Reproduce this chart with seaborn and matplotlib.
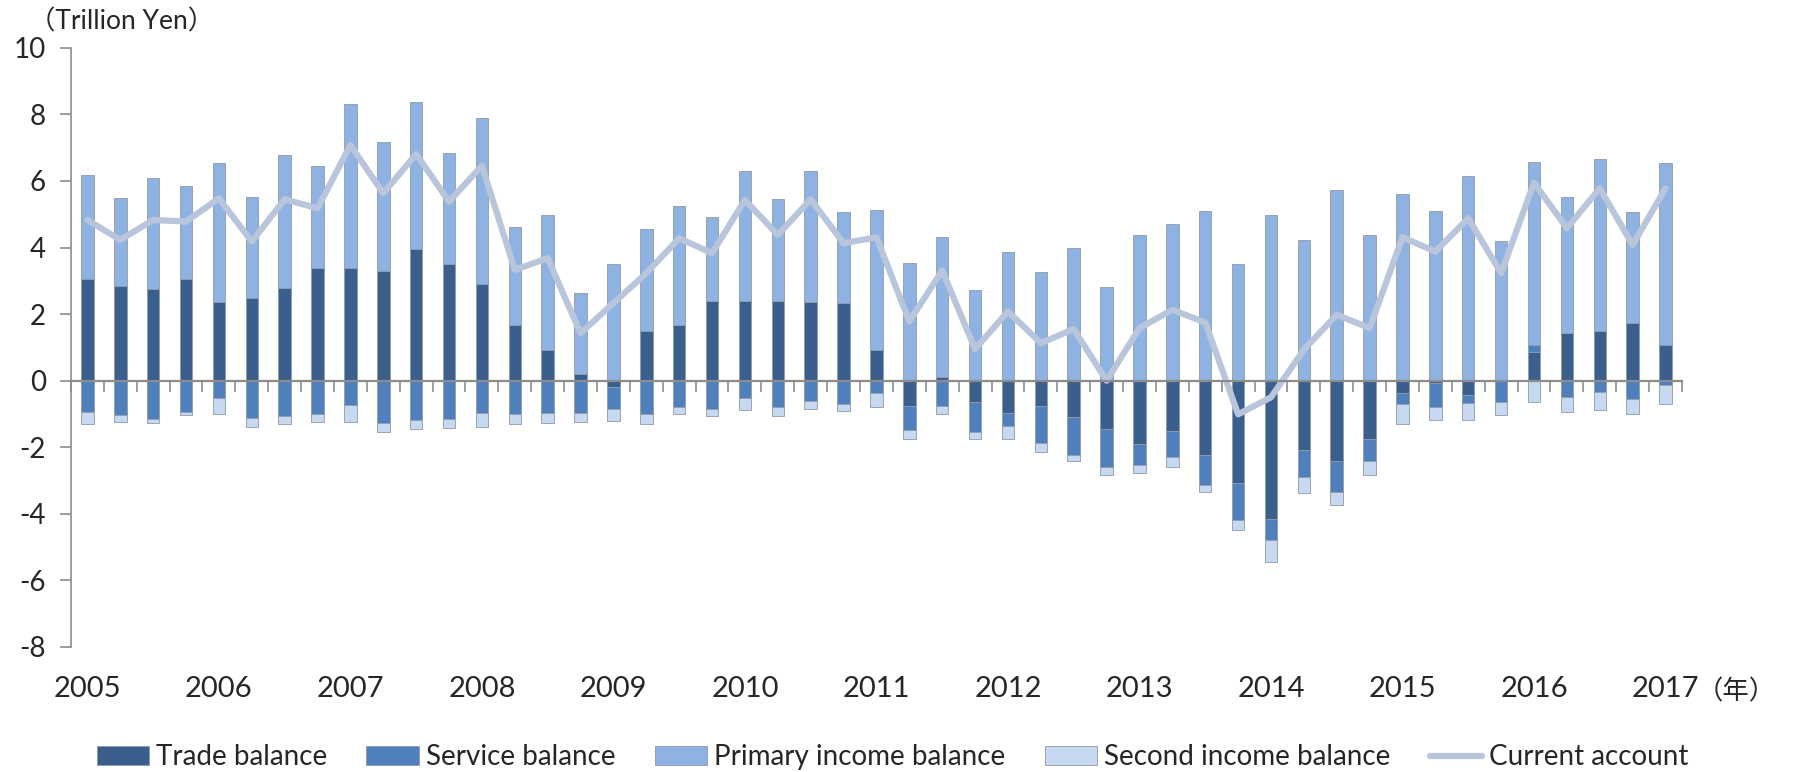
import numpy as np
import pandas as pd
import matplotlib
matplotlib.use("Agg")
import matplotlib.pyplot as plt
import matplotlib.transforms as mtransforms
from matplotlib.patches import Patch
from matplotlib.lines import Line2D
import seaborn as sns

# quarterly data, 2005Q1 .. 2017Q1 (trillion yen)
years = [str(y) for y in range(2005, 2018)]

trade = [3.07, 2.83, 2.75, 3.07,
         2.36, 2.48, 2.79, 3.39,
         3.39, 3.31, 3.95, 3.50,
         2.90, 1.68, 0.92, 0.21,
         -0.20, 1.48, 1.68, 2.40,
         2.40, 2.40, 2.36, 2.32,
         0.92, -0.76, 0.12, -0.63,
         -0.96, -0.76, -1.08, -1.44,
         -1.91, -1.51, -2.22, -3.08,
         -4.16, -2.07, -2.42, -1.74,
         -0.36, -0.07, -0.44, -0.02,
         0.85, 1.44, 1.48, 1.72,
         1.08]

service = [-0.95, -1.03, -1.15, -0.95,
           -0.53, -1.11, -1.07, -0.99,
           -0.72, -1.27, -1.19, -1.15,
           -0.96, -1.00, -0.96, -0.96,
           -0.65, -1.00, -0.80, -0.85,
           -0.53, -0.80, -0.61, -0.71,
           -0.36, -0.71, -0.76, -0.91,
           -0.39, -1.11, -1.15, -1.14,
           -0.63, -0.79, -0.91, -1.11,
           -0.63, -0.82, -0.91, -0.68,
           -0.35, -0.73, -0.23, -0.61,
           0.23, -0.48, -0.33, -0.56,
           -0.12]

primary = [3.10, 2.67, 3.33, 2.78,
           4.17, 3.05, 3.98, 3.06,
           4.93, 3.86, 4.41, 3.35,
           4.98, 2.93, 4.05, 2.42,
           3.50, 3.07, 3.58, 2.51,
           3.89, 3.05, 3.93, 2.74,
           4.22, 3.55, 4.19, 2.72,
           3.86, 3.26, 3.98, 2.80,
           4.38, 4.70, 5.10, 3.50,
           4.97, 4.23, 5.74, 4.38,
           5.62, 5.10, 6.14, 4.20,
           5.48, 4.09, 5.17, 3.34,
           5.45]

second = [-0.35, -0.20, -0.12, -0.08,
          -0.47, -0.28, -0.23, -0.24,
          -0.51, -0.26, -0.27, -0.27,
          -0.43, -0.30, -0.30, -0.27,
          -0.37, -0.30, -0.20, -0.21,
          -0.36, -0.26, -0.23, -0.21,
          -0.44, -0.27, -0.24, -0.20,
          -0.39, -0.27, -0.18, -0.24,
          -0.23, -0.29, -0.20, -0.31,
          -0.65, -0.47, -0.41, -0.40,
          -0.59, -0.37, -0.50, -0.39,
          -0.65, -0.47, -0.56, -0.44,
          -0.59]

current = [4.83, 4.23, 4.83, 4.78,
           5.48, 4.18, 5.45, 5.18,
           7.08, 5.63, 6.81, 5.38,
           6.46, 3.33, 3.68, 1.43,
           2.33, 3.23, 4.28, 3.83,
           5.43, 4.38, 5.45, 4.13,
           4.31, 1.78, 3.31, 0.95,
           2.08, 1.13, 1.55, 0.00,
           1.58, 2.13, 1.75, -1.01,
           -0.50, 0.93, 1.98, 1.58,
           4.31, 3.88, 4.88, 3.23,
           5.95, 4.58, 5.78, 4.08,
           5.78]

series_names = ["Trade balance", "Service balance", "Primary income balance", "Second income balance"]
series_colors = ["#3B5F8D", "#4F80BC", "#8EB3E2", "#C6D9F0"]
line_color = "#B9C5DB"

sns.set_theme(style="white")
plt.rcParams['font.family'] = ['Lato', 'Noto Sans CJK JP', 'DejaVu Sans']
plt.rcParams['axes.unicode_minus'] = False

fig = plt.figure(figsize=(17.96, 7.72), dpi=100)
ax = fig.add_axes([0.0395, 0.162, 0.897, 0.776])

x = np.arange(len(trade))
pos_base = np.zeros(len(x))
neg_base = np.zeros(len(x))
for vals, col in zip([trade, service, primary, second], series_colors):
    v = np.array(vals)
    bottom = np.where(v >= 0, pos_base, neg_base)
    ax.bar(x, v, width=0.38, bottom=bottom, color=col,
           edgecolor="#8D9AAD", linewidth=0.6, zorder=2)
    pos_base += np.where(v >= 0, v, 0)
    neg_base += np.where(v < 0, v, 0)

df = pd.DataFrame({"x": x, "current": current})
sns.lineplot(data=df, x="x", y="current", color=line_color, linewidth=4.5,
             ax=ax, zorder=3)

ax.set_xlim(-0.5, len(x) - 0.5)
ax.set_ylim(-8, 10)
ax.set_yticks(np.arange(-8, 11, 2))
ax.set_xlabel("")
ax.set_ylabel("")

for s in ["top", "right"]:
    ax.spines[s].set_visible(False)
ax.spines["bottom"].set_position(("data", 0))
ax.spines["left"].set_color("#8C8C8C")
ax.spines["bottom"].set_color("#8C8C8C")
ax.spines["left"].set_linewidth(1.2)
ax.spines["bottom"].set_linewidth(1.6)
ax.spines["left"].set_zorder(1)
ax.spines["bottom"].set_zorder(4)

ax.set_xticks(np.arange(-0.5, len(x), 1.0))
ax.set_xticklabels([])
ax.tick_params(axis="x", direction="out", length=8, width=1.2, color="#8C8C8C", bottom=True)
ax.tick_params(axis="y", direction="out", length=8, width=1.2, color="#8C8C8C",
               left=True, labelsize=20, pad=10)

trans = mtransforms.blended_transform_factory(ax.transData, ax.transAxes)
for i, yr in enumerate(years):
    ax.text(i * 4, -0.07, yr, transform=trans, ha="center", va="center", fontsize=21)
ax.text(len(x) + 1.15, -0.075, "（年）", transform=trans, ha="center", va="center", fontsize=19)

fig.text(0.016, 0.972, "（Trillion Yen）", ha="left", va="center", fontsize=19)

handles = [Patch(facecolor=c, edgecolor="#8D9AAD", linewidth=0.6) for c in series_colors]
handles.append(Line2D([0], [0], color=line_color, linewidth=4.5))
labels = series_names + ["Current account"]
fig.legend(handles, labels, loc="center", bbox_to_anchor=(0.497, 0.019), ncol=5,
           frameon=False, fontsize=20, handlelength=1.9, handleheight=0.7,
           handletextpad=0.25, columnspacing=1.4)

fig.savefig("out.png", dpi=100)
